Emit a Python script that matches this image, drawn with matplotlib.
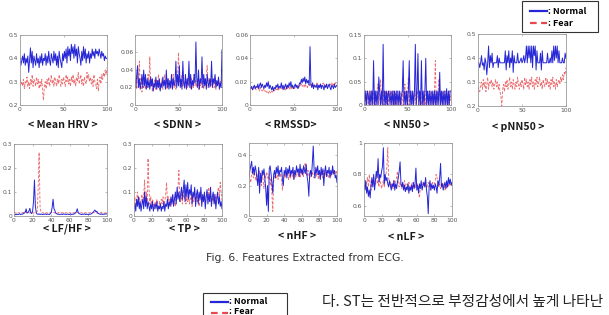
import matplotlib
matplotlib.use('Agg')
import matplotlib.pyplot as plt
import numpy as np
from matplotlib.lines import Line2D
from matplotlib.patches import Rectangle

# ---------------- data ----------------
mean_hrv_normal = [0.40,0.37,0.39,0.41,0.38,0.42,0.37,0.40,0.38,0.41,
                   0.34,0.39,0.445,0.38,0.43,0.36,0.41,0.39,0.37,0.42,
                   0.38,0.40,0.36,0.41,0.38,0.42,0.37,0.40,0.39,0.42,
                   0.37,0.41,0.38,0.43,0.39,0.37,0.42,0.40,0.38,0.43,
                   0.39,0.42,0.37,0.41,0.36,0.43,0.40,0.38,0.36,0.42,
                   0.39,0.43,0.40,0.44,0.38,0.45,0.41,0.44,0.39,0.46,
                   0.42,0.45,0.40,0.46,0.41,0.44,0.38,0.45,0.42,0.40,
                   0.37,0.43,0.39,0.45,0.40,0.44,0.38,0.42,0.40,0.43,
                   0.38,0.42,0.40,0.44,0.41,0.43,0.40,0.44,0.42,0.43,
                   0.41,0.44,0.42,0.40,0.43,0.41,0.42,0.39,0.41,0.40,0.40]
mean_hrv_fear = [0.31,0.29,0.30,0.28,0.31,0.27,0.30,0.29,0.32,0.28,
                 0.30,0.27,0.31,0.29,0.33,0.28,0.31,0.30,0.28,0.32,
                 0.29,0.31,0.27,0.30,0.28,0.31,0.26,0.22,0.28,0.30,
                 0.27,0.31,0.29,0.32,0.28,0.30,0.33,0.29,0.31,0.28,
                 0.32,0.30,0.28,0.31,0.29,0.33,0.30,0.28,0.31,0.29,
                 0.32,0.30,0.28,0.33,0.30,0.32,0.29,0.31,0.28,0.32,
                 0.30,0.33,0.29,0.31,0.28,0.32,0.30,0.34,0.29,0.31,
                 0.33,0.29,0.31,0.28,0.32,0.30,0.29,0.34,0.31,0.33,
                 0.30,0.32,0.29,0.31,0.28,0.33,0.30,0.29,0.27,0.31,
                 0.26,0.30,0.32,0.29,0.33,0.31,0.34,0.32,0.35,0.33,0.36]

sdnn_normal = [0.030,0.020,0.035,0.045,0.020,0.030,0.018,0.025,0.035,0.020,
               0.040,0.022,0.035,0.018,0.030,0.020,0.028,0.018,0.032,0.022,
               0.030,0.016,0.025,0.020,0.032,0.018,0.028,0.020,0.030,0.016,
               0.025,0.020,0.032,0.022,0.028,0.018,0.040,0.020,0.030,0.018,
               0.028,0.020,0.035,0.018,0.030,0.022,0.025,0.050,0.020,0.035,
               0.022,0.045,0.020,0.030,0.018,0.050,0.025,0.020,0.035,0.018,
               0.030,0.022,0.050,0.020,0.035,0.018,0.028,0.022,0.035,0.025,
               0.072,0.030,0.020,0.040,0.018,0.030,0.025,0.055,0.020,0.035,
               0.022,0.030,0.018,0.035,0.025,0.020,0.030,0.022,0.050,0.020,
               0.030,0.025,0.035,0.020,0.028,0.022,0.032,0.018,0.025,0.020,0.063]
sdnn_fear = [0.020,0.028,0.018,0.035,0.025,0.050,0.020,0.030,0.015,0.025,
             0.020,0.030,0.018,0.025,0.020,0.035,0.022,0.055,0.020,0.030,
             0.015,0.025,0.020,0.030,0.018,0.028,0.020,0.035,0.018,0.025,
             0.022,0.030,0.018,0.025,0.035,0.020,0.028,0.018,0.030,0.022,
             0.025,0.018,0.030,0.022,0.035,0.020,0.028,0.018,0.025,0.035,
             0.060,0.025,0.030,0.020,0.035,0.022,0.028,0.018,0.030,0.025,
             0.020,0.032,0.022,0.028,0.018,0.030,0.025,0.020,0.035,0.022,
             0.028,0.020,0.030,0.018,0.025,0.022,0.030,0.020,0.028,0.018,
             0.030,0.022,0.035,0.045,0.020,0.030,0.025,0.020,0.035,0.022,
             0.028,0.020,0.032,0.018,0.025,0.022,0.030,0.020,0.028,0.025,0.030]

rmssd_normal = [0.015,0.014,0.016,0.013,0.015,0.017,0.014,0.016,0.015,0.018,
                0.014,0.017,0.019,0.015,0.018,0.016,0.014,0.017,0.015,0.019,
                0.016,0.020,0.014,0.017,0.015,0.013,0.016,0.012,0.015,0.014,
                0.017,0.015,0.018,0.014,0.016,0.015,0.019,0.014,0.017,0.013,
                0.016,0.018,0.014,0.017,0.015,0.019,0.016,0.020,0.015,0.017,
                0.014,0.016,0.018,0.015,0.017,0.014,0.016,0.019,0.018,0.022,
                0.019,0.023,0.020,0.024,0.018,0.022,0.019,0.021,0.017,0.050,
                0.018,0.015,0.019,0.014,0.017,0.016,0.015,0.018,0.013,0.017,
                0.015,0.018,0.014,0.017,0.016,0.013,0.017,0.015,0.018,0.014,
                0.016,0.018,0.015,0.013,0.017,0.016,0.014,0.018,0.015,0.016,0.017]
rmssd_fear = [0.013,0.014,0.015,0.013,0.016,0.014,0.015,0.013,0.014,0.016,
              0.014,0.012,0.015,0.013,0.012,0.014,0.013,0.011,0.012,0.011,
              0.012,0.010,0.012,0.011,0.010,0.012,0.011,0.013,0.012,0.014,
              0.013,0.015,0.012,0.014,0.013,0.015,0.014,0.013,0.015,0.014,
              0.016,0.013,0.015,0.014,0.016,0.015,0.013,0.016,0.014,0.015,
              0.016,0.014,0.015,0.017,0.015,0.016,0.014,0.017,0.016,0.018,
              0.016,0.017,0.015,0.018,0.016,0.017,0.015,0.018,0.017,0.016,
              0.018,0.016,0.017,0.015,0.018,0.016,0.017,0.019,0.016,0.017,
              0.015,0.018,0.016,0.017,0.019,0.016,0.018,0.017,0.016,0.018,
              0.017,0.016,0.018,0.017,0.019,0.016,0.018,0.017,0.019,0.018,0.019]

nn50_normal = [0.03,0,0.03,0,0.03,0.02,0,0.03,0,0.03,
               0,0.095,0,0.03,0,0.03,0,0.06,0.03,0,
               0.03,0,0.13,0,0.03,0,0.03,0,0.03,0.02,
               0,0.03,0,0.03,0,0.03,0,0.03,0,0.03,
               0,0.03,0,0.02,0.03,0.095,0,0.03,0,0.03,
               0,0.03,0.095,0,0.03,0,0.03,0,0.03,0.13,
               0,0.03,0.11,0,0.03,0,0.095,0,0.03,0,
               0.03,0.10,0,0.03,0,0.03,0,0.03,0,0.03,
               0,0.03,0,0.03,0,0.03,0,0.07,0,0.03,
               0,0.03,0,0.03,0,0.035,0,0.03,0,0.03,0.03]
nn50_fear = [0.02,0,0.03,0.01,0.02,0,0.03,0,0.02,0.03,
             0,0.02,0.03,0,0.02,0.03,0.045,0,0.03,0.055,
             0.02,0,0.03,0,0.02,0.03,0,0.025,0,0.03,
             0.01,0.03,0,0.02,0.03,0,0.025,0,0.03,0.02,
             0,0.03,0.02,0,0.03,0,0.02,0.045,0,0.03,
             0.02,0.06,0,0.03,0.02,0,0.03,0,0.025,0.02,
             0,0.03,0.02,0,0.03,0.01,0,0.03,0.02,0,
             0.03,0,0.025,0.02,0,0.03,0,0.02,0.03,0,
             0.02,0.03,0.095,0,0.03,0.02,0.055,0.03,0,0.02,
             0.03,0,0.02,0.03,0,0.025,0.02,0,0.03,0.01,0.02]

pnn50_normal = [0.38,0.38,0.36,0.38,0.41,0.37,0.38,0.35,0.40,0.38,
                0.33,0.38,0.45,0.36,0.41,0.38,0.42,0.36,0.38,0.38,
                0.38,0.38,0.41,0.36,0.40,0.38,0.38,0.38,0.38,0.38,
                0.38,0.43,0.35,0.41,0.38,0.43,0.36,0.40,0.38,0.43,
                0.34,0.41,0.38,0.38,0.38,0.42,0.38,0.38,0.39,0.40,
                0.38,0.39,0.41,0.38,0.40,0.45,0.38,0.45,0.40,0.45,
                0.38,0.45,0.36,0.45,0.41,0.45,0.35,0.43,0.38,0.38,
                0.38,0.42,0.35,0.43,0.38,0.38,0.38,0.38,0.38,0.42,
                0.38,0.38,0.40,0.38,0.43,0.38,0.45,0.39,0.45,0.40,
                0.45,0.38,0.43,0.38,0.38,0.38,0.40,0.38,0.38,0.42,0.40]
pnn50_fear = [0.28,0.27,0.26,0.29,0.30,0.27,0.31,0.28,0.30,0.26,
              0.29,0.32,0.27,0.30,0.29,0.31,0.28,0.30,0.27,0.29,
              0.31,0.28,0.30,0.27,0.29,0.26,0.24,0.20,0.27,0.29,
              0.26,0.30,0.28,0.31,0.27,0.29,0.32,0.28,0.30,0.27,
              0.31,0.29,0.27,0.30,0.28,0.32,0.29,0.27,0.30,0.28,
              0.31,0.29,0.27,0.32,0.29,0.31,0.28,0.30,0.27,0.31,
              0.29,0.32,0.28,0.30,0.27,0.31,0.29,0.32,0.28,0.30,
              0.32,0.28,0.30,0.27,0.31,0.29,0.28,0.32,0.29,0.31,
              0.28,0.30,0.27,0.31,0.29,0.32,0.28,0.30,0.27,0.31,
              0.28,0.30,0.31,0.29,0.32,0.30,0.33,0.31,0.34,0.33,0.36]

lfhf_normal = [0.006,0.007,0.005,0.008,0.006,0.007,0.009,0.006,0.008,0.007,
               0.010,0.012,0.015,0.030,0.012,0.015,0.020,0.032,0.015,0.010,
               0.020,0.060,0.150,0.040,0.012,0.008,0.007,0.009,0.006,0.008,
               0.007,0.006,0.008,0.007,0.009,0.006,0.008,0.007,0.006,0.010,
               0.015,0.035,0.070,0.030,0.022,0.012,0.009,0.007,0.008,0.006,
               0.007,0.008,0.006,0.009,0.007,0.008,0.006,0.007,0.008,0.006,
               0.007,0.009,0.006,0.008,0.007,0.010,0.012,0.018,0.030,0.015,
               0.010,0.008,0.007,0.006,0.008,0.007,0.009,0.006,0.008,0.007,
               0.006,0.008,0.007,0.009,0.012,0.015,0.020,0.025,0.018,0.020,
               0.012,0.010,0.008,0.007,0.009,0.006,0.008,0.007,0.009,0.008,0.010]
lfhf_fear = [0.015,0.014,0.012,0.015,0.013,0.014,0.012,0.015,0.013,0.014,
             0.015,0.013,0.020,0.016,0.014,0.013,0.015,0.012,0.014,0.013,
             0.015,0.012,0.014,0.013,0.016,0.020,0.120,0.265,0.040,0.015,
             0.013,0.014,0.012,0.015,0.013,0.014,0.012,0.013,0.015,0.012,
             0.014,0.012,0.013,0.015,0.012,0.014,0.013,0.012,0.015,0.013,
             0.012,0.014,0.013,0.015,0.012,0.013,0.014,0.012,0.015,0.013,
             0.014,0.012,0.013,0.015,0.012,0.014,0.013,0.012,0.014,0.013,
             0.015,0.012,0.014,0.013,0.012,0.015,0.013,0.014,0.012,0.013,
             0.014,0.012,0.015,0.013,0.012,0.014,0.013,0.015,0.012,0.014,
             0.013,0.012,0.014,0.013,0.015,0.012,0.014,0.013,0.012,0.014,0.013]

tp_normal = [0.03,0.05,0.02,0.07,0.04,0.08,0.03,0.06,0.02,0.05,
             0.07,0.03,0.10,0.04,0.08,0.03,0.06,0.04,0.02,0.05,
             0.03,0.06,0.02,0.04,0.05,0.03,0.06,0.02,0.04,0.03,
             0.05,0.02,0.04,0.03,0.06,0.02,0.05,0.04,0.07,0.03,
             0.06,0.04,0.08,0.05,0.09,0.04,0.07,0.10,0.05,0.12,
             0.07,0.10,0.06,0.09,0.12,0.07,0.11,0.15,0.06,0.13,
             0.08,0.14,0.07,0.11,0.09,0.13,0.05,0.10,0.08,0.12,
             0.04,0.09,0.11,0.05,0.10,0.07,0.12,0.04,0.09,0.06,
             0.10,0.03,0.08,0.11,0.05,0.09,0.06,0.12,0.04,0.08,
             0.10,0.05,0.09,0.03,0.07,0.10,0.05,0.08,0.04,0.06,0.03]
tp_fear = [0.05,0.08,0.04,0.07,0.10,0.05,0.08,0.04,0.06,0.09,
           0.05,0.08,0.15,0.07,0.10,0.06,0.24,0.12,0.05,0.08,
           0.04,0.07,0.05,0.03,0.06,0.04,0.07,0.05,0.03,0.06,
           0.04,0.07,0.05,0.08,0.04,0.06,0.09,0.14,0.06,0.08,
           0.05,0.07,0.04,0.06,0.09,0.05,0.08,0.04,0.07,0.10,
           0.12,0.19,0.08,0.06,0.09,0.05,0.11,0.07,0.09,0.05,
           0.08,0.06,0.10,0.05,0.07,0.09,0.04,0.08,0.06,0.10,
           0.05,0.08,0.06,0.09,0.04,0.07,0.10,0.05,0.08,0.06,
           0.09,0.05,0.08,0.10,0.07,0.12,0.06,0.09,0.05,0.08,
           0.06,0.09,0.05,0.08,0.07,0.10,0.12,0.08,0.14,0.10,0.06]

nhf_normal = [0.25,0.30,0.33,0.36,0.28,0.32,0.27,0.33,0.30,0.25,
              0.20,0.32,0.15,0.28,0.22,0.30,0.27,0.31,0.25,0.18,
              0.07,0.20,0.03,0.31,0.33,0.28,0.22,0.15,0.27,0.30,
              0.25,0.32,0.28,0.33,0.26,0.30,0.29,0.32,0.24,0.20,
              0.30,0.27,0.32,0.25,0.31,0.28,0.33,0.26,0.30,0.28,
              0.32,0.24,0.30,0.27,0.33,0.29,0.31,0.26,0.34,0.28,
              0.31,0.27,0.33,0.30,0.28,0.34,0.26,0.22,0.13,0.28,
              0.30,0.26,0.35,0.46,0.30,0.25,0.32,0.28,0.33,0.27,
              0.30,0.24,0.32,0.27,0.31,0.20,0.29,0.33,0.26,0.30,
              0.28,0.32,0.25,0.30,0.27,0.33,0.28,0.30,0.25,0.27,0.22]
nhf_fear = [0.27,0.24,0.22,0.28,0.30,0.25,0.29,0.26,0.23,0.28,
            0.22,0.26,0.30,0.25,0.20,0.28,0.24,0.18,0.27,0.25,
            0.29,0.26,0.24,0.28,0.20,0.25,0.15,0.03,0.22,0.27,
            0.28,0.25,0.27,0.24,0.29,0.26,0.28,0.23,0.17,0.26,
            0.27,0.25,0.28,0.26,0.29,0.24,0.27,0.25,0.28,0.26,
            0.29,0.24,0.27,0.25,0.28,0.30,0.26,0.28,0.25,0.29,
            0.27,0.30,0.26,0.33,0.35,0.28,0.26,0.30,0.27,0.25,
            0.28,0.26,0.29,0.27,0.25,0.28,0.30,0.26,0.28,0.24,
            0.27,0.29,0.26,0.28,0.25,0.30,0.27,0.29,0.26,0.28,
            0.25,0.27,0.29,0.26,0.28,0.30,0.27,0.29,0.28,0.30,0.27]

nlf_normal = [0.74,0.70,0.76,0.68,0.72,0.66,0.70,0.65,0.73,0.78,
              0.72,0.80,0.70,0.76,0.82,0.78,0.90,0.75,0.80,0.78,
              0.82,0.85,0.97,0.74,0.80,0.76,0.78,0.74,0.72,0.76,
              0.73,0.70,0.74,0.72,0.76,0.70,0.74,0.71,0.75,0.78,
              0.82,0.88,0.74,0.72,0.75,0.70,0.73,0.69,0.72,0.70,
              0.74,0.68,0.72,0.70,0.73,0.69,0.75,0.71,0.74,0.84,
              0.70,0.73,0.68,0.74,0.71,0.76,0.70,0.73,0.75,0.72,
              0.78,0.70,0.66,0.55,0.72,0.76,0.70,0.74,0.71,0.73,
              0.70,0.74,0.72,0.68,0.76,0.73,0.78,0.87,0.72,0.74,
              0.70,0.73,0.75,0.71,0.76,0.72,0.78,0.74,0.77,0.73,0.75]
nlf_fear = [0.72,0.76,0.70,0.74,0.78,0.72,0.80,0.74,0.70,0.76,
            0.73,0.78,0.72,0.75,0.80,0.74,0.76,0.72,0.78,0.74,
            0.71,0.74,0.76,0.72,0.78,0.80,0.85,0.97,0.78,0.73,
            0.75,0.72,0.74,0.71,0.76,0.73,0.75,0.78,0.82,0.74,
            0.72,0.75,0.73,0.71,0.74,0.72,0.76,0.73,0.71,0.74,
            0.72,0.75,0.73,0.70,0.74,0.72,0.75,0.73,0.71,0.74,
            0.72,0.74,0.70,0.65,0.72,0.74,0.71,0.75,0.73,0.72,
            0.74,0.71,0.73,0.75,0.72,0.74,0.70,0.73,0.75,0.72,
            0.74,0.76,0.80,0.78,0.75,0.72,0.74,0.71,0.73,0.75,
            0.72,0.74,0.70,0.73,0.71,0.74,0.72,0.75,0.73,0.74,0.73]

feature_names = ['< Mean HRV >', '< SDNN >', '< RMSSD>', '< NN50 >', '< pNN50 >',
                 '< LF/HF >', '< TP >', '< nHF >', '< nLF >']
normal_series = [mean_hrv_normal, sdnn_normal, rmssd_normal, nn50_normal, pnn50_normal,
                 lfhf_normal, tp_normal, nhf_normal, nlf_normal]
fear_series = [mean_hrv_fear, sdnn_fear, rmssd_fear, nn50_fear, pnn50_fear,
               lfhf_fear, tp_fear, nhf_fear, nlf_fear]
y_limits = [(0.2, 0.5), (0, 0.08), (0, 0.06), (0, 0.15), (0.2, 0.5),
            (0, 0.3), (0, 0.3), (0, 0.48), (0.535, 1.0)]
y_ticks = [[0.2, 0.3, 0.4, 0.5], [0, 0.02, 0.04, 0.06], [0, 0.02, 0.04, 0.06], [0, 0.05, 0.1, 0.15],
           [0.2, 0.3, 0.4, 0.5], [0, 0.1, 0.2, 0.3], [0, 0.1, 0.2, 0.3], [0, 0.2, 0.4], [0.6, 0.8, 1]]
x_ticks_row1 = [0, 50, 100]
x_ticks_row2 = [0, 20, 40, 60, 80, 100]
legend_labels = [': Normal', ': Fear']
caption = 'Fig. 6. Features Extracted from ECG.'
body_text = '다. ST는 전반적으로 부정감성에서 높게 나타난'

# ---------------- layout (pixels) ----------------
W, H = 609, 315
rects = [(20, 107, 35, 105), (135, 222, 35, 105), (250, 337, 35, 105), (364, 451, 35, 105), (478, 566, 34, 106),
         (14, 107, 144, 216), (134, 222, 144, 216), (249, 337, 143, 216), (364, 452, 143, 216)]
label_pos = [(63, 125), (178, 125), (291, 125), (407, 125), (518, 127),
             (67, 229), (184, 229), (297, 236), (406, 237)]

BLUE = '#2626d6'
RED = '#e8474b'
FONTS = ['Noto Sans CJK KR', 'DejaVu Sans']

fig = plt.figure(figsize=(W / 100, H / 100), dpi=100)
fig.patch.set_facecolor('white')


def px(x, y):
    return x / W, 1 - y / H


for i in range(9):
    l, r, t, b = rects[i]
    ax = fig.add_axes([l / W, 1 - b / H, (r - l) / W, (b - t) / H])
    yn = np.array(normal_series[i])
    yf = np.array(fear_series[i])
    ax.plot(np.linspace(0, 100, len(yf)), yf, color=RED, lw=0.65, ls=(0, (3, 1.8)), alpha=0.8)
    ax.plot(np.linspace(0, 100, len(yn)), yn, color=BLUE, lw=0.7)
    ax.set_xlim(0, 100)
    ax.set_ylim(*y_limits[i])
    ax.set_yticks(y_ticks[i])
    ax.set_yticklabels(['%g' % v for v in y_ticks[i]])
    xt = x_ticks_row1 if i < 5 else x_ticks_row2
    ax.set_xticks(xt)
    ax.set_xticklabels(['%g' % v for v in xt])
    ax.tick_params(direction='in', length=1.5, width=0.4, labelsize=4.3, colors='#8a8a8a',
                   labelcolor='#555555', pad=1.2, top=True, right=True)
    for s in ax.spines.values():
        s.set_color('#9a9a9a')
        s.set_linewidth(0.6)
    fig.text(*px(*label_pos[i]), feature_names[i], ha='center', va='center', fontsize=7.6,
             fontweight='bold', family=FONTS, color='#1a1a1a')

# top-right legend
fig.patches.append(Rectangle(px(522, 32), 76 / W, 31 / H, transform=fig.transFigure,
                             fill=False, edgecolor='#333333', lw=0.8))
fig.lines.append(Line2D([530 / W, 547 / W], [1 - 11 / H, 1 - 11 / H], transform=fig.transFigure,
                        color=BLUE, lw=1.6))
fig.lines.append(Line2D([530 / W, 547 / W], [1 - 23 / H, 1 - 23 / H], transform=fig.transFigure,
                        color=RED, lw=1.6, ls=(0, (3, 2))))
fig.text(*px(548, 11), legend_labels[0], ha='left', va='center', fontsize=6.5, fontweight='bold',
         family=FONTS)
fig.text(*px(548, 23), legend_labels[1], ha='left', va='center', fontsize=6.5, fontweight='bold',
         family=FONTS)

# caption
fig.text(*px(305, 258), caption, ha='center', va='center', fontsize=7.8, color='#333333',
         family=['DejaVu Sans'])

# bottom (cut-off) legend
fig.patches.append(Rectangle(px(203, 320), 84 / W, 27 / H, transform=fig.transFigure,
                             fill=False, edgecolor='#333333', lw=0.8))
fig.lines.append(Line2D([211 / W, 228 / W], [1 - 302 / H, 1 - 302 / H], transform=fig.transFigure,
                        color=BLUE, lw=1.6))
fig.lines.append(Line2D([211 / W, 228 / W], [1 - 313 / H, 1 - 313 / H], transform=fig.transFigure,
                        color=RED, lw=1.6, ls=(0, (3, 2))))
fig.text(*px(229, 302), legend_labels[0], ha='left', va='center', fontsize=6.5, fontweight='bold',
         family=FONTS)
fig.text(*px(229, 312), legend_labels[1], ha='left', va='center', fontsize=6.5, fontweight='bold',
         family=FONTS)

# body text
fig.text(*px(322, 302), body_text, ha='left', va='center', fontsize=10.6, color='#222222',
         family=FONTS)

fig.savefig('out.png', dpi=100, facecolor='white')
